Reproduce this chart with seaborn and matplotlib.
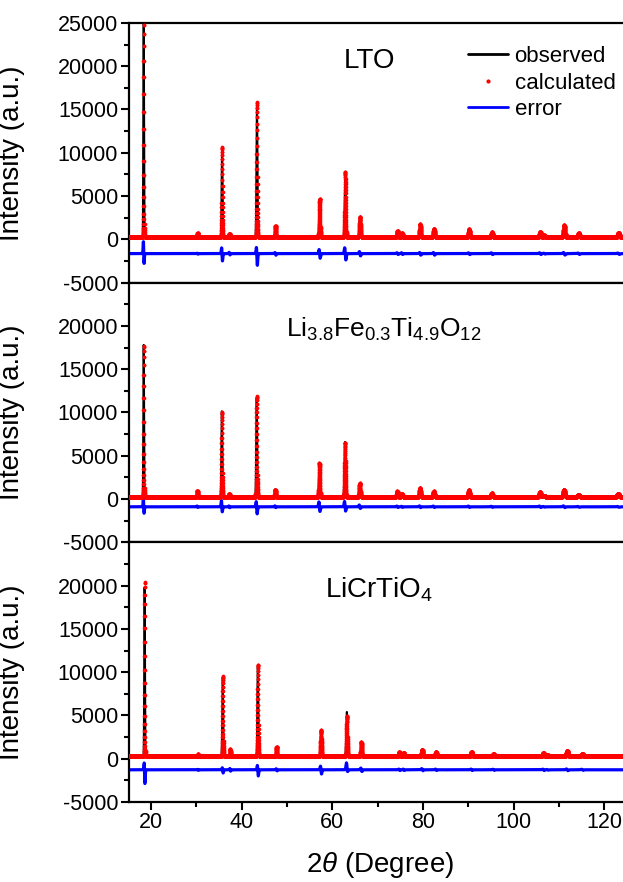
import numpy as np
import pandas as pd
import seaborn as sns
import matplotlib.pyplot as plt
from matplotlib.lines import Line2D
from matplotlib.ticker import MultipleLocator

# PEAK DATA
# positions in 2theta (degree), intensities at the peak top (a.u.)
lto_pos = [18.35, 30.25, 35.65, 37.3, 43.35, 47.45, 57.2, 62.85, 66.1, 74.4, 75.4,
           79.4, 82.45, 90.2, 95.25, 105.9, 106.8, 111.2, 114.4, 123.2]
lto_obs = [25800, 700, 10500, 650, 15300, 1500, 4650, 7750, 2600, 950, 700,
           1700, 1200, 1150, 800, 850, 450, 1600, 680, 750]
lto_calc = [25600, 700, 10650, 650, 15830, 1550, 4700, 7800, 2620, 950, 700,
            1740, 1240, 1160, 810, 850, 450, 1620, 700, 770]
lto_err = [1250, 60, 750, 150, 1000, 150, 500, 700, 250, 100, 100,
           150, 150, 100, 100, 100, 50, 150, 80, 80]

fe_pos = [18.35, 30.2, 35.6, 37.25, 43.3, 47.4, 57.15, 62.8, 66.05, 74.35, 75.35,
          79.35, 82.4, 90.15, 95.2, 105.85, 106.7, 111.15, 114.35, 123.1]
fe_obs = [17800, 970, 10130, 580, 11700, 1120, 4180, 6600, 1820, 890, 580,
          1280, 890, 1040, 660, 810, 400, 1120, 500, 620]
fe_calc = [17700, 950, 10000, 580, 11880, 1100, 4150, 6500, 1800, 880, 580,
           1260, 880, 1030, 660, 800, 400, 1100, 500, 620]
fe_err = [800, 80, 650, 100, 700, 100, 550, 550, 200, 80, 60,
          100, 80, 80, 60, 80, 40, 100, 50, 50]

cr_pos = [18.55, 30.35, 35.8, 37.45, 43.55, 47.7, 57.5, 63.2, 66.4, 74.8, 75.75,
          79.85, 82.9, 90.75, 95.6, 106.6, 107.5, 111.85, 115.2]
cr_obs = [19800, 500, 9400, 1090, 10700, 1360, 3250, 5400, 1900, 740, 700,
          1090, 780, 780, 540, 660, 430, 930, 580]
cr_calc = [20470, 500, 9510, 1090, 10870, 1360, 3300, 4900, 1900, 740, 700,
           1060, 780, 780, 540, 660, 430, 930, 580]
cr_err = [1150, 60, 300, 150, 600, 120, 450, 450, 200, 80, 80,
          120, 80, 80, 60, 80, 40, 100, 60]

samples = ["LTO", r"Li$_\mathregular{3.8}$Fe$_\mathregular{0.3}$Ti$_\mathregular{4.9}$O$_\mathregular{12}$",
           r"LiCrTiO$_\mathregular{4}$"]
backgrounds = [250, 280, 280]
err_offsets = [-1650, -900, -1280]


def build_pattern(pos, obs, calc, err, background, err_offset):
    """
    builds observed / calculated / error profiles from the peak table
    """
    grid = np.arange(15, 126, 0.005)
    obs_y = np.full_like(grid, float(background))
    calc_y = np.full_like(grid, float(background))
    err_y = np.full_like(grid, float(err_offset))
    for p, ho, hc, a in zip(pos, obs, calc, err):
        s = (0.17 + 0.0025 * (p - 15)) / 2.355
        g = np.exp(-0.5 * ((grid - p) / s) ** 2)
        d = -(grid - p) / s * np.exp(0.5) * g
        obs_y += (ho - background) * g
        calc_y += (hc - background) * g
        err_y += (ho - hc) * g + a * d
    return pd.DataFrame({"two_theta": grid, "observed": obs_y,
                         "calculated": calc_y, "error": err_y})


sns.set_style("ticks")
plt.rcParams["font.family"] = ["Liberation Sans", "DejaVu Sans"]
plt.rcParams["mathtext.fontset"] = "custom"
plt.rcParams["mathtext.rm"] = "Liberation Sans"
plt.rcParams["mathtext.it"] = "Liberation Sans:italic"
plt.rcParams["axes.unicode_minus"] = False
for key in ["text.color", "axes.labelcolor", "xtick.color", "ytick.color", "axes.edgecolor"]:
    plt.rcParams[key] = "black"

fig = plt.figure(figsize=(6.23, 8.82), dpi=100)
left, width = 0.2063, 0.807
top, bottom = 0.974, 0.0907
h = (top - bottom) / 3

tables = [(lto_pos, lto_obs, lto_calc, lto_err),
          (fe_pos, fe_obs, fe_calc, fe_err),
          (cr_pos, cr_obs, cr_calc, cr_err)]
title_pos = [(0.480, 0.854), (0.508, 0.821), (0.499, 0.819)]
title_size = [20, 19, 20]

for i, (pos, obs, calc, err) in enumerate(tables):
    ax = fig.add_axes([left, top - (i + 1) * h, width, h])
    df = build_pattern(pos, obs, calc, err, backgrounds[i], err_offsets[i])

    # OBSERVED LINE, CALCULATED DOTS, DIFFERENCE LINE
    sns.lineplot(data=df, x="two_theta", y="observed", ax=ax, color="black",
                 lw=1.5, estimator=None, sort=False)
    sns.scatterplot(data=df.iloc[::2], x="two_theta", y="calculated", ax=ax,
                    color="#ff0000", s=7, linewidth=0, zorder=3)
    sns.lineplot(data=df, x="two_theta", y="error", ax=ax, color="#0000ff",
                 lw=2.3, estimator=None, sort=False)

    ax.set_xlim(15, 126)
    ax.set_ylim(-5000, 25000)
    ax.xaxis.set_major_locator(MultipleLocator(20))
    ax.xaxis.set_minor_locator(MultipleLocator(10))
    ax.yaxis.set_major_locator(MultipleLocator(5000))
    ax.yaxis.set_minor_locator(MultipleLocator(2500))
    ax.tick_params(which="major", direction="out", length=5.5, width=1.5,
                   labelsize=15.5, pad=2)
    ax.tick_params(which="minor", direction="out", length=3.5, width=1.5)
    for sp in ax.spines.values():
        sp.set_linewidth(1.6)

    ticks = list(range(-5000, 25001, 5000))
    ax.set_yticks(ticks)
    if i > 0:
        ax.set_yticklabels([str(t) if t < 25000 else "" for t in ticks])
    else:
        ax.set_yticklabels([str(t) for t in ticks])
    ax.set_ylabel("Intensity (a.u.)", fontsize=20)
    ax.yaxis.set_label_coords(-0.206, 0.5)

    if i < 2:
        ax.tick_params(labelbottom=False)
        ax.set_xlabel("")
    else:
        ax.set_xlabel(r"2$\it{\theta}$ (Degree)", fontsize=20, labelpad=12)

    ax.text(title_pos[i][0], title_pos[i][1], samples[i], transform=ax.transAxes,
            ha="center", va="center", fontsize=title_size[i])

    if i == 0:
        handles = [Line2D([], [], color="black", lw=2),
                   Line2D([], [], color="#ff0000", ls="none", marker="o", ms=2),
                   Line2D([], [], color="#0000ff", lw=2)]
        ax.legend(handles, ["observed", "calculated", "error"], loc="upper left",
                  bbox_to_anchor=(0.675, 0.911), frameon=False, fontsize=16,
                  borderpad=0, borderaxespad=0, handlelength=1.8,
                  handletextpad=0.3, labelspacing=0.25)

fig.savefig("out.png", dpi=100)
